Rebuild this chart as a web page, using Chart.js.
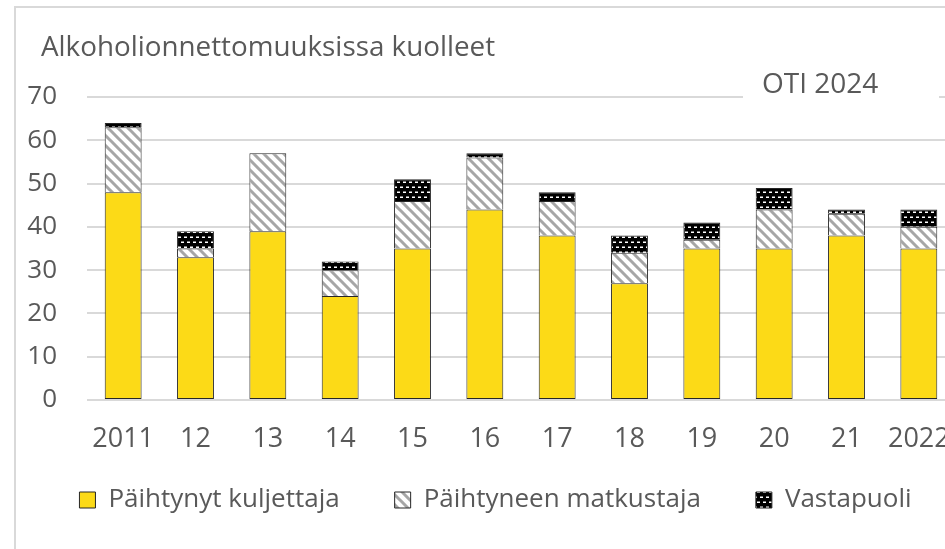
<!DOCTYPE html>
<html>
<head>
<meta charset="utf-8">
<script src="https://cdn.jsdelivr.net/npm/chart.js@4.4.1/dist/chart.umd.min.js"></script>
<style>
  html, body { margin: 0; padding: 0; background: #fff; overflow: hidden; }
  canvas { display: block; }
</style>
</head>
<body>
<canvas id="chart" width="992" height="549"></canvas>
<script>
const years = ["2011", "12", "13", "14", "15", "16", "17", "18", "19", "20", "21", "2022"];
const kuljettaja = [48, 33, 39, 24, 35, 44, 38, 27, 35, 35, 38, 35];
const matkustaja = [15, 2, 18, 6, 11, 12, 8, 7, 2, 9, 5, 5];
const vastapuoli = [1, 4, 0, 2, 5, 1, 2, 4, 4, 5, 1, 4];
const yTicks = [0, 10, 20, 30, 40, 50, 60, 70];

const textColor = "#595959";
const fontFamily = "'Open Sans', 'Noto Sans', sans-serif";

function hatchPattern() {
    const c = document.createElement("canvas");
    c.width = 10; c.height = 10;
    const g = c.getContext("2d");
    g.fillStyle = "#fff";
    g.fillRect(0, 0, 10, 10);
    g.strokeStyle = "#a6a6a6";
    g.lineWidth = 3;
    g.beginPath();
    g.moveTo(-5, -5); g.lineTo(15, 15);
    g.moveTo(-5, 5); g.lineTo(5, 15);
    g.moveTo(5, -5); g.lineTo(15, 5);
    g.stroke();
    return g.createPattern(c, "repeat");
}

function dotPattern() {
    const c = document.createElement("canvas");
    c.width = 6; c.height = 10;
    const g = c.getContext("2d");
    g.fillStyle = "#000";
    g.fillRect(0, 0, 6, 10);
    g.fillStyle = "#fff";
    g.fillRect(1, 1.5, 3, 1.5);
    g.fillRect(4, 6.5, 3, 1.5);
    g.fillRect(-2, 6.5, 3, 1.5);
    return g.createPattern(c, "repeat");
}

// frame, title and source text
const decorations = {
    id: "decorations",
    afterLayout(chart) {
        // let the x labels draw below the scale box, nudge legend right
        chart.scales.x.bottom += 40;
        chart.legend.left += 18;
        chart.legend.right += 18;
    },
    beforeDraw(chart) {
        const ctx = chart.ctx;
        ctx.save();
        ctx.strokeStyle = "#d9d9d9";
        ctx.lineWidth = 2;
        ctx.strokeRect(15, 7, 2000, 2000);
        ctx.restore();
    },
    afterDraw(chart) {
        const ctx = chart.ctx;
        ctx.save();
        ctx.fillStyle = textColor;
        ctx.textBaseline = "middle";
        ctx.font = "27.8px " + fontFamily;
        ctx.fillText("Alkoholionnettomuuksissa kuolleet", 41, 48);
        ctx.fillStyle = "#fff";
        ctx.fillRect(743, 68, 196, 36);
        ctx.fillStyle = textColor;
        ctx.font = "28px " + fontFamily;
        ctx.fillText("OTI 2024", 762, 85);
        ctx.restore();
    }
};

const barCommon = {
    borderColor: "#262626",
    borderWidth: 1,
    barPercentage: 0.51,
    categoryPercentage: 1.0
};

new Chart(document.getElementById("chart"), {
    type: "bar",
    data: {
        labels: years,
        datasets: [
            Object.assign({ label: "Päihtynyt kuljettaja", data: kuljettaja, backgroundColor: "#fcda17", borderSkipped: false }, barCommon),
            Object.assign({ label: "Päihtyneen matkustaja", data: matkustaja, backgroundColor: hatchPattern(), borderSkipped: "start" }, barCommon),
            Object.assign({ label: "Vastapuoli", data: vastapuoli, backgroundColor: dotPattern(), borderSkipped: "start" }, barCommon)
        ]
    },
    options: {
        responsive: false,
        animation: false,
        devicePixelRatio: 1,
        layout: { padding: { top: 97, right: 37, bottom: 26, left: 0 } },
        plugins: {
            title: { display: false },
            tooltip: { enabled: false },
            legend: {
                position: "bottom",
                labels: {
                    boxWidth: 16,
                    boxHeight: 16,
                    padding: 55,
                    color: textColor,
                    font: { family: fontFamily, size: 26 }
                }
            }
        },
        scales: {
            x: {
                stacked: true,
                grid: { display: false },
                border: { display: false },
                ticks: {
                    color: textColor,
                    padding: 15,
                    maxRotation: 0,
                    autoSkip: false,
                    font: { family: fontFamily, size: 27 }
                },
                afterFit(scale) { scale.height = 32; }
            },
            y: {
                stacked: true,
                min: 0,
                max: 70,
                afterBuildTicks(scale) { scale.ticks = yTicks.map(v => ({ value: v })); },
                grid: { color: "#d9d9d9", lineWidth: 2, drawTicks: false },
                border: { display: false },
                ticks: {
                    color: textColor,
                    padding: 30,
                    font: { family: fontFamily, size: 26 }
                },
                afterFit(scale) { scale.width = 87; }
            }
        }
    },
    plugins: [decorations]
});
</script>
</body>
</html>
